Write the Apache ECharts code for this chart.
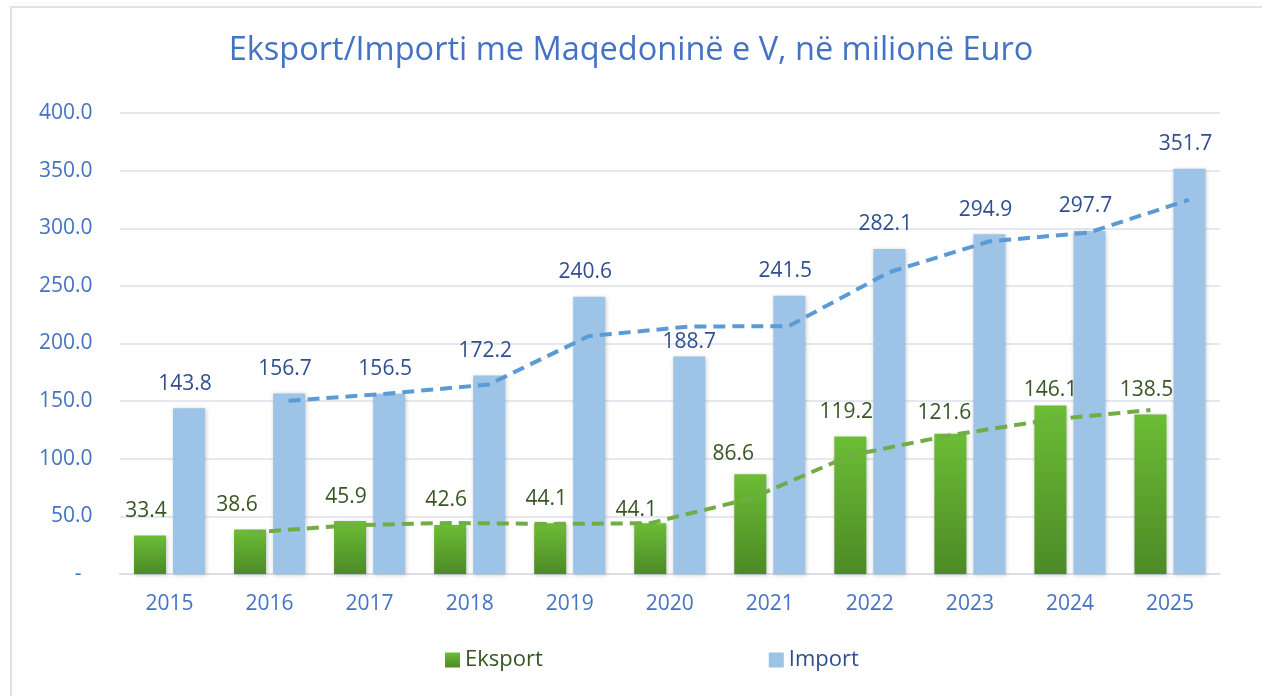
<!DOCTYPE html>
<html>
<head>
<meta charset="utf-8">
<script src="https://cdn.jsdelivr.net/npm/echarts@6/dist/echarts.min.js"></script>
<style>
  html, body { margin: 0; padding: 0; background: #fff; }
  #chart { width: 1262px; height: 696px; }
</style>
</head>
<body>
<div id="chart"></div>
<script>
const years = ['2015', '2016', '2017', '2018', '2019', '2020', '2021', '2022', '2023', '2024', '2025']
const eksport = [33.4, 38.6, 45.9, 42.6, 44.1, 44.1, 86.6, 119.2, 121.6, 146.1, 138.5]
const importi = [143.8, 156.7, 156.5, 172.2, 240.6, 188.7, 241.5, 282.1, 294.9, 297.7, 351.7]
// dashed trend lines (no point for 2015)
const eksportTrend = [null, 36.0, 42.3, 44.3, 43.4, 44.1, 65.4, 102.9, 120.4, 133.9, 142.3]
const importTrend = [null, 150.3, 156.6, 164.4, 206.4, 214.7, 215.1, 261.8, 288.5, 296.3, 324.7]
const yTicks = [0, 50, 100, 150, 200, 250, 300, 350, 400]

const chart = echarts.init(document.getElementById('chart'))

const font = 'Open Sans'
const axisBlue = '#4472C4'
const darkGreen = '#375623'
const darkBlue = '#2F4F8F'

// manual nudges of some labels, like in the original
const greenNudge = { 1: [-13, 0], 5: [-14, 11], 6: [-17, 4], 7: [-4, 0], 8: [-6, 4], 9: [0, 9] }
const blueNudge = { 5: [0, 10] }

// bar centre offsets inside a category (in category units)
const greenShift = -0.195
const blueShift = 0.19

function trendPoints(values, shift) {
  const pts = []
  values.forEach((v, i) => {
    if (v !== null) pts.push([i + shift, v])
  })
  return pts
}

function withNudge(values, nudge) {
  return values.map((v, i) => ({
    value: v,
    label: nudge[i] ? { offset: nudge[i] } : undefined
  }))
}

const option = {
  backgroundColor: '#fff',
  animation: false,
  title: {
    text: 'Eksport/Importi me Maqedoninë e V, në milionë Euro',
    left: 'center',
    top: 29,
    textStyle: { fontFamily: font, fontSize: 32.5, fontWeight: 'normal', color: axisBlue }
  },
  graphic: [
    {
      type: 'polyline',
      shape: { points: [[11, 700], [11, 7], [1270, 7]] },
      style: { stroke: '#DDE2EB', lineWidth: 2, fill: null },
      silent: true
    }
  ],
  legend: {
    left: 440,
    top: 644,
    itemWidth: 15,
    itemHeight: 15,
    itemGap: 226,
    icon: 'rect',
    textStyle: { fontFamily: font, fontSize: 22 },
    data: [
      { name: 'Eksport', textStyle: { color: darkGreen } },
      { name: 'Import', textStyle: { color: darkBlue } }
    ]
  },
  grid: { left: 119.5, right: 42, top: 113, bottom: 122 },
  xAxis: [
    {
      type: 'category',
      data: years,
      axisTick: { show: false },
      axisLine: { lineStyle: { color: '#D9DCE3', width: 1.5 } },
      axisLabel: { fontFamily: font, fontSize: 21, color: axisBlue, margin: 20 }
    },
    {
      type: 'value',
      min: -0.5,
      max: 10.5,
      show: false
    }
  ],
  yAxis: {
    type: 'value',
    min: yTicks[0],
    max: yTicks[yTicks.length - 1],
    interval: yTicks[1] - yTicks[0],
    axisLine: { show: false },
    axisTick: { show: false },
    splitLine: { lineStyle: { color: '#DDE1E9', width: 1.5 } },
    axisLabel: {
      fontFamily: font,
      fontSize: 21,
      color: axisBlue,
      margin: 27,
      formatter: v => (v === 0 ? '-  ' : v.toFixed(1))
    }
  },
  series: [
    {
      name: 'Eksport',
      type: 'bar',
      barWidth: 32,
      barGap: '22%',
      itemStyle: {
        color: new echarts.graphic.LinearGradient(0, 0, 0, 1, [
          { offset: 0, color: '#6CBD35' },
          { offset: 1, color: '#4C8A26' }
        ]),
        shadowColor: 'rgba(0,0,0,0.25)',
        shadowBlur: 4,
        shadowOffsetX: 1,
        shadowOffsetY: 1
      },
      data: withNudge(eksport, greenNudge),
      label: {
        show: true,
        position: 'top',
        distance: 14,
        offset: [-4, 0],
        fontFamily: font,
        fontSize: 21,
        color: darkGreen,
        formatter: p => p.value.toFixed(1)
      },
      z: 2
    },
    {
      name: 'Import',
      type: 'bar',
      barWidth: 32,
      itemStyle: {
        color: '#9DC3E6',
        shadowColor: 'rgba(0,0,0,0.22)',
        shadowBlur: 4,
        shadowOffsetX: 1,
        shadowOffsetY: 1
      },
      data: withNudge(importi, blueNudge),
      label: {
        show: true,
        position: 'top',
        distance: 14,
        offset: [-4, 0],
        fontFamily: font,
        fontSize: 21,
        color: darkBlue,
        formatter: p => p.value.toFixed(1)
      },
      z: 2
    },
    {
      name: 'Eksport trend',
      type: 'line',
      xAxisIndex: 1,
      data: trendPoints(eksportTrend, greenShift),
      symbol: 'none',
      lineStyle: { color: '#70AD47', width: 4, type: [12, 7] },
      z: 5
    },
    {
      name: 'Import trend',
      type: 'line',
      xAxisIndex: 1,
      data: trendPoints(importTrend, blueShift),
      symbol: 'none',
      lineStyle: { color: '#5B9BD5', width: 4, type: [12, 7] },
      z: 5
    }
  ]
}

chart.setOption(option)
window.addEventListener('resize', function() {
  chart.resize()
})
</script>
</body>
</html>
